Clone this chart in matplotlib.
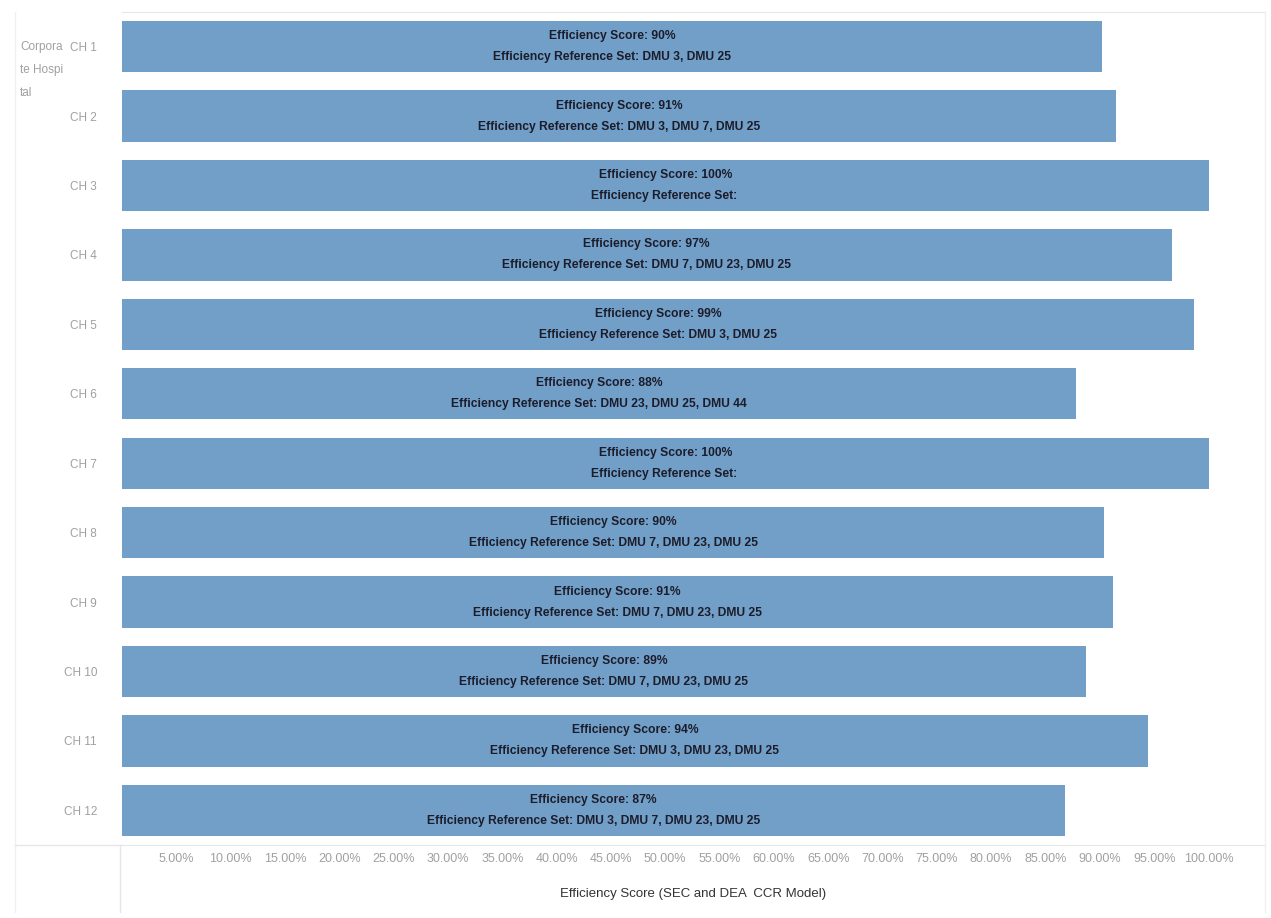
import matplotlib.pyplot as plt
from matplotlib.lines import Line2D

# data
hospitals = ['CH 1', 'CH 2', 'CH 3', 'CH 4', 'CH 5', 'CH 6',
             'CH 7', 'CH 8', 'CH 9', 'CH 10', 'CH 11', 'CH 12']
bar_values = [90.2, 91.5, 100.0, 96.6, 98.7, 87.8,
              100.0, 90.4, 91.2, 88.7, 94.4, 86.8]
score_labels = ['90%', '91%', '100%', '97%', '99%', '88%',
                '100%', '90%', '91%', '89%', '94%', '87%']
reference_sets = ['DMU 3, DMU 25',
                  'DMU 3, DMU 7, DMU 25',
                  '',
                  'DMU 7, DMU 23, DMU 25',
                  'DMU 3, DMU 25',
                  'DMU 23, DMU 25, DMU 44',
                  '',
                  'DMU 7, DMU 23, DMU 25',
                  'DMU 7, DMU 23, DMU 25',
                  'DMU 7, DMU 23, DMU 25',
                  'DMU 3, DMU 23, DMU 25',
                  'DMU 3, DMU 7, DMU 23, DMU 25']
tick_values = [5, 10, 15, 20, 25, 30, 35, 40, 45, 50,
               55, 60, 65, 70, 75, 80, 85, 90, 95, 100]

label_font = ['Liberation Sans Narrow', 'Liberation Sans', 'DejaVu Sans']
bar_color = '#719fc8'
grey = '#a0a0a0'
line_grey = '#e6e6e6'

fig = plt.figure(figsize=(12.71, 9.18), dpi=100)
ax = fig.add_axes([122 / 1271, 1 - 845 / 918, (1265 - 122) / 1271, (845 - 12) / 918])

ypos = list(range(len(hospitals)))
ax.barh(ypos, bar_values, height=0.74, color=bar_color)

for y, v, s, r in zip(ypos, bar_values, score_labels, reference_sets):
    txt = 'Efficiency Score: ' + s + '\nEfficiency Reference Set: ' + r
    ax.text(v / 2, y, txt, ha='center', va='center', fontsize=8.7,
            fontweight='bold', color='#1c1c2a', family=label_font,
            linespacing=2.0)

ax.set_xlim(0, 105.2)
ax.set_ylim(11.5, -0.5)
ax.set_yticks(ypos)
ax.set_yticklabels(hospitals, color=grey, fontsize=8.5, family=label_font)
ax.set_xticks(tick_values)
ax.set_xticklabels(['%.2f%%' % t for t in tick_values], color=grey,
                   fontsize=9, family=label_font)
ax.tick_params(length=0, axis='y', pad=18)
ax.tick_params(length=0, axis='x', pad=6)
ax.set_xlabel('Efficiency Score (SEC and DEA  CCR Model)', fontsize=9.5,
              color='#333333', family=label_font, labelpad=16)

for side in ['left', 'right']:
    ax.spines[side].set_visible(False)
ax.spines['top'].set_color(line_grey)
ax.spines['bottom'].set_color(line_grey)

# row header and frame lines
fig.text(20 / 1271, 1 - 41 / 918, 'Corpora\nte Hospi\ntal', ha='left', va='top',
         fontsize=8.5, color=grey, family=label_font, linespacing=2.2)
fig.add_artist(Line2D([120 / 1271, 120 / 1271], [1 - 845 / 918, 1 - 912 / 918],
                      color=line_grey, lw=1))
fig.add_artist(Line2D([15 / 1271, 15 / 1271], [1 - 12 / 918, 1 - 912 / 918],
                      color='#f0f0f0', lw=1))
fig.add_artist(Line2D([1265 / 1271, 1265 / 1271], [1 - 12 / 918, 1 - 912 / 918],
                      color='#f0f0f0', lw=1))
fig.add_artist(Line2D([15 / 1271, 122 / 1271], [1 - 845 / 918, 1 - 845 / 918],
                      color=line_grey, lw=1))

fig.savefig('out.png', dpi=100)
